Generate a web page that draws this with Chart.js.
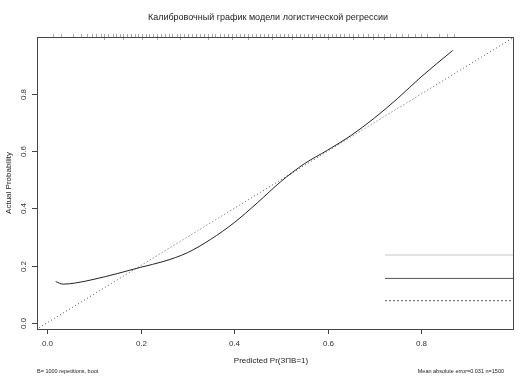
<!DOCTYPE html>
<html>
<head>
<meta charset="utf-8">
<script src="https://cdn.jsdelivr.net/npm/chart.js@4"></script>
<style>
  body { margin: 0; background: #fff; }
</style>
</head>
<body>
<canvas id="myChart" width="531" height="376"></canvas>
<script>
// calibration curve (bias-corrected)
const predicted = [0.018, 0.034, 0.06, 0.1, 0.15, 0.2, 0.25, 0.3, 0.35, 0.4, 0.45, 0.5, 0.55, 0.6, 0.65, 0.7, 0.75, 0.8, 0.868];
const actual = [0.144, 0.135, 0.139, 0.152, 0.172, 0.194, 0.215, 0.245, 0.292, 0.35, 0.42, 0.494, 0.556, 0.604, 0.655, 0.716, 0.785, 0.86, 0.953];

// ideal line
const ideal = [-0.03, 1.03];

// legend stubs in the lower right (no text in the original)
const legendX = [0.723, 0.997];
const legendY = [0.237, 0.155, 0.077];

// tick labels
const xTicks = [0, 0.2, 0.4, 0.6, 0.8];
const yTicks = [0, 0.2, 0.4, 0.6, 0.8];

// rug of predicted probabilities along the top
const rugValues = [0.012, 0.03, 0.055, 0.072, 0.085, 0.095, 0.105, 0.114, 0.122, 0.131, 0.14, 0.148, 0.156, 0.163, 0.171, 0.179, 0.187, 0.195, 0.203, 0.211, 0.218, 0.227, 0.235, 0.243, 0.251, 0.26, 0.268, 0.277, 0.285, 0.293, 0.301, 0.31, 0.318, 0.327, 0.335, 0.344, 0.352, 0.36, 0.369, 0.378, 0.386, 0.395, 0.403, 0.412, 0.421, 0.43, 0.438, 0.447, 0.455, 0.463, 0.472, 0.481, 0.49, 0.498, 0.507, 0.515, 0.524, 0.533, 0.541, 0.55, 0.558, 0.567, 0.575, 0.584, 0.592, 0.601, 0.61, 0.618, 0.627, 0.636, 0.646, 0.655, 0.665, 0.676, 0.687, 0.698, 0.709, 0.72, 0.733, 0.746, 0.759, 0.773, 0.787, 0.8, 0.813, 0.838, 0.856, 0.871];
const rugTall = [0.122, 0.163, 0.203, 0.235, 0.285, 0.344, 0.395, 0.43, 0.481, 0.524, 0.567, 0.601, 0.655, 0.698, 0.72];

const fontFam = "'Liberation Sans', Arial, sans-serif";

const rPlot = {
  id: "rPlot",
  afterDraw(chart) {
    const c = chart.ctx;
    const a = chart.chartArea;
    const xs = chart.scales.x;
    const ys = chart.scales.y;
    c.save();

    // rug
    c.strokeStyle = "#aaa";
    c.lineWidth = 1;
    rugValues.forEach((v) => {
      const px = Math.round(xs.getPixelForValue(v)) + 0.5;
      const tall = rugTall.includes(v);
      c.beginPath();
      c.moveTo(px, a.top - 3);
      c.lineTo(px, a.top + (tall ? 3 : 0));
      c.stroke();
    });

    // box
    c.strokeStyle = "#444";
    c.lineWidth = 1;
    c.strokeRect(a.left + 0.5, a.top + 0.5, a.right - a.left, a.bottom - a.top);

    // axis ticks and labels
    c.fillStyle = "#333";
    c.font = "8px " + fontFam;
    c.textAlign = "center";
    c.textBaseline = "middle";
    xTicks.forEach((v) => {
      const px = Math.round(xs.getPixelForValue(v)) + 0.5;
      c.beginPath();
      c.moveTo(px, a.bottom);
      c.lineTo(px, a.bottom + 5);
      c.stroke();
      c.fillText(v.toFixed(1), px, a.bottom + 15);
    });
    yTicks.forEach((v) => {
      const py = Math.round(ys.getPixelForValue(v)) + 0.5;
      c.beginPath();
      c.moveTo(a.left, py);
      c.lineTo(a.left - 5, py);
      c.stroke();
      c.save();
      c.translate(a.left - 13, py);
      c.rotate(-Math.PI / 2);
      c.fillText(v.toFixed(1), 0, 0);
      c.restore();
    });

    // titles
    c.fillStyle = "#222";
    c.font = "9px " + fontFam;
    c.fillText("Калибровочный график модели логистической регрессии", 268, 18);
    c.font = "8px " + fontFam;
    c.fillText("Predicted Pr(ЗПВ=1)", 271, 361);
    c.save();
    c.translate(9, 183);
    c.rotate(-Math.PI / 2);
    c.fillText("Actual Probability", 0, 0);
    c.restore();

    // footnotes
    c.font = "5.5px " + fontFam;
    c.textAlign = "left";
    c.fillText("B= 1000 repetitions, boot", 37, 371.5);
    c.textAlign = "right";
    c.fillText("Mean absolute error=0.031 n=1500", 504, 371.5);

    c.restore();
  },
};

const ctx = document.getElementById("myChart");

const legendSets = legendY.map((y, i) => ({
  data: legendX.map((x) => ({ x: x, y: y })),
  borderColor: ["#c8c8c8", "#555", "#555"][i],
  borderDash: [[], [], [2, 2]][i],
  borderWidth: 1,
  pointRadius: 0,
}));

myChart = new Chart(ctx, {
  type: "line",
  data: {
    datasets: [
      {
        data: predicted.map((p, i) => ({ x: p, y: actual[i] })),
        borderColor: "#222",
        borderWidth: 1,
        pointRadius: 0,
        cubicInterpolationMode: "monotone",
      },
      {
        data: ideal.map((v) => ({ x: v, y: v })),
        borderColor: "#555",
        borderWidth: 1,
        borderDash: [1, 2.5],
        pointRadius: 0,
      },
      ...legendSets,
    ],
  },
  options: {
    responsive: false,
    animation: false,
    devicePixelRatio: 1,
    layout: {
      padding: { left: 37, top: 37, right: 18, bottom: 47 },
    },
    scales: {
      x: { type: "linear", min: -0.022, max: 0.997, display: false },
      y: { type: "linear", min: -0.022, max: 1.0, display: false },
    },
    plugins: {
      legend: { display: false },
      tooltip: { enabled: false },
    },
  },
  plugins: [rPlot],
});
</script>
</body>
</html>
